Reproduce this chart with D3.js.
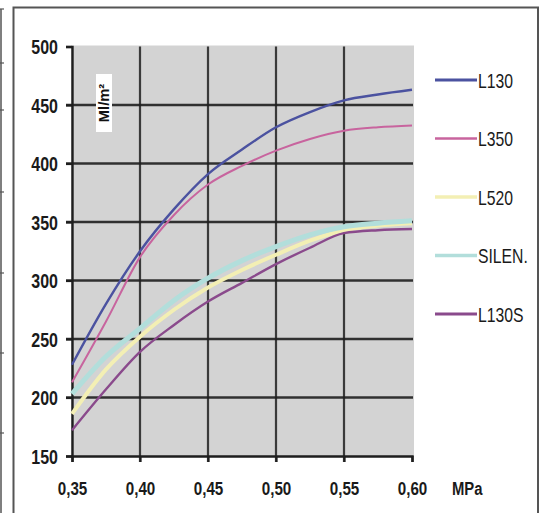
<!DOCTYPE html>
<html>
<head>
<meta charset="utf-8">
<script src="https://cdn.jsdelivr.net/npm/d3@7"></script>
<style>
  html, body { margin: 0; padding: 0; background: #fff; }
  svg { display: block; }
  text { font-family: "Liberation Sans", Arial, sans-serif; }
</style>
</head>
<body>
<div id="chart"></div>
<script>
// pressione (MPa)
var pressure = [0.35, 0.375, 0.40, 0.425, 0.45, 0.475, 0.50, 0.525, 0.55, 0.575, 0.60];

// serie
var seriesNames = ["L130", "L350", "L520", "SILEN.", "L130S"];
var L130   = [228, 280, 325, 361, 391, 412, 431, 444, 454, 459, 463];
var L350   = [213, 265, 320, 356, 382, 398, 411, 421, 428, 431, 432.5];
var L520   = [186, 224, 252, 275, 294, 309, 322, 334, 343, 347, 349];
var SILEN  = [203, 235, 259, 283, 302, 317, 329, 339, 346, 349, 351];
var L130S  = [172, 207, 239, 262, 282, 298, 314, 328, 340.5, 343, 344];

// assi
var xTicks = [0.35, 0.40, 0.45, 0.50, 0.55, 0.60];
var yTicks = [150, 200, 250, 300, 350, 400, 450, 500];
var unitLabel = "Ml/m²";
var xUnit = "MPa";

var seriesValues = [L130, L350, L520, SILEN, L130S];
var colors = ["#4b52a0", "#c8649e", "#f3efb4", "#b2dedb", "#8a4a8c"];
var widths = [2.4, 2, 4, 5, 2.4];

var W = 543, H = 513;
var svg = d3.select("#chart").append("svg")
  .attr("width", W).attr("height", H);

// testo stretto orizzontalmente (simula un "condensed")
function narrowText(parent, px, py, k){
  return parent.append("text")
    .attr("transform", "translate(" + px + "," + py + ") scale(" + k + ",1)");
}

// cornice esterna e resto della tabella a sinistra
svg.append("path")
  .attr("d", "M13.5,513 V7.5 H538 V513")
  .attr("fill", "none").attr("stroke", "#555").attr("stroke-width", 2);
svg.append("line")
  .attr("x1", 1).attr("x2", 1).attr("y1", 9).attr("y2", 513)
  .attr("stroke", "#555").attr("stroke-width", 1.5);
[9, 63, 110, 192, 273, 353, 433].forEach(function(yy){
  svg.append("line").attr("x1", 0).attr("x2", 4).attr("y1", yy).attr("y2", yy)
    .attr("stroke", "#555").attr("stroke-width", 1.2);
});

var x = d3.scaleLinear().domain([0.35, 0.60]).range([72, 412]);
var y = d3.scaleLinear().domain([150, 500]).range([456, 46.5]);

// sfondo grigio
svg.append("rect")
  .attr("x", x(0.35) - 1).attr("y", y(500) - 1)
  .attr("width", x(0.60) - x(0.35) + 3).attr("height", y(150) - y(500) + 2)
  .attr("fill", "#d3d3d3");

// griglia
var grid = svg.append("g").attr("stroke", "#1e1e1e");
grid.selectAll("line.h")
  .data(yTicks.filter(function(d){ return d > 150 && d < 500; }))
  .enter().append("line").attr("class", "h")
  .attr("x1", x(0.35) - 6).attr("x2", x(0.60) + 1)
  .attr("y1", function(d){ return y(d); }).attr("y2", function(d){ return y(d); })
  .attr("stroke-width", 2.6).attr("stroke-opacity", 0.9);
grid.selectAll("line.v")
  .data(xTicks.filter(function(d){ return d > 0.35 && d < 0.60; }))
  .enter().append("line").attr("class", "v")
  .attr("x1", function(d){ return x(d); }).attr("x2", function(d){ return x(d); })
  .attr("y1", y(500)).attr("y2", y(150) + 6)
  .attr("stroke-width", 2.2).attr("stroke-opacity", 0.85);

// assi
var fmt = function(d){ return d3.format(".2f")(d).replace(".", ","); };
var yAxis = svg.append("g")
  .attr("transform", "translate(" + x(0.35) + ",0)")
  .call(d3.axisLeft(y).tickValues(yTicks).tickSize(6).tickPadding(8));
var xAxis = svg.append("g")
  .attr("transform", "translate(0," + y(150) + ")")
  .call(d3.axisBottom(x).tickValues(xTicks).tickFormat(fmt).tickSize(6).tickPadding(8));
[yAxis, xAxis].forEach(function(a){
  a.select(".domain").attr("stroke", "#1e1e1e").attr("stroke-width", 2.4);
  a.selectAll(".tick line").attr("stroke", "#1e1e1e").attr("stroke-width", 2.2);
  a.selectAll("text").attr("fill", "#1a1a1a").attr("font-weight", "bold")
    .attr("font-family", '"Liberation Sans", Arial, sans-serif');
});
yAxis.selectAll("text").attr("font-size", 20).attr("dy", "0.36em")
  .attr("x", 0).attr("transform", "translate(-14,0) scale(0.8,1)");
xAxis.selectAll("text").attr("font-size", 19).attr("y", 0).attr("dy", 0)
  .attr("transform", "translate(0,39) scale(0.8,1)");

narrowText(svg, 452, y(150) + 39, 0.78)
  .attr("font-size", 19).attr("font-weight", "bold").attr("fill", "#1a1a1a")
  .text(xUnit);

// etichetta unità
svg.append("rect")
  .attr("x", 96).attr("y", 74).attr("width", 16).attr("height", 58)
  .attr("fill", "#fff");
svg.append("text")
  .attr("transform", "translate(109,103) rotate(-90) scale(1.05,1)")
  .attr("text-anchor", "middle")
  .attr("font-size", 14).attr("font-weight", "bold").attr("fill", "#111")
  .text(unitLabel);

// curve
var line = d3.line()
  .x(function(d){ return x(d[0]); })
  .y(function(d){ return y(d[1]); })
  .curve(d3.curveMonotoneX);

var order = [2, 3, 4, 1, 0];
order.forEach(function(i){
  var pts = pressure.map(function(p, k){ return [p, seriesValues[i][k]]; });
  svg.append("path")
    .datum(pts)
    .attr("d", line)
    .attr("fill", "none")
    .attr("stroke", colors[i])
    .attr("stroke-width", widths[i])
    .attr("stroke-linejoin", "round");
});

// legenda
var leg = svg.append("g");
seriesNames.forEach(function(name, i){
  var ly = 80 + i * 58.5;
  leg.append("line")
    .attr("x1", 435).attr("x2", 477).attr("y1", ly).attr("y2", ly)
    .attr("stroke", colors[i]).attr("stroke-width", Math.min(widths[i] + 0.6, 3.6));
  narrowText(leg, 478, ly + 7.5, 0.75)
    .attr("font-size", 21).attr("fill", "#1a1a1a")
    .text(name);
});
</script>
</body>
</html>
